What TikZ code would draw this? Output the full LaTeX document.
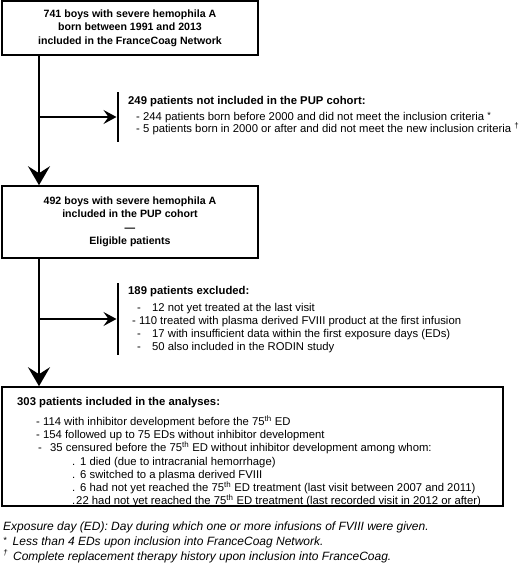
\documentclass[tikz,border=0pt]{standalone}
\usepackage{fontspec}
\setmainfont{Liberation Sans}
\usetikzlibrary{arrows.meta}
\begin{document}
\begin{tikzpicture}[x=1pt,y=-1pt,
  box/.style={draw, line width=1.6pt, inner sep=0pt, align=center,
    font=\bfseries\fontsize{10.6}{13.5}\selectfont},
  flow/.style={line width=1.9pt, -{Stealth[length=19pt,width=22pt,inset=7pt]}},
  branch/.style={line width=1.5pt, -{Stealth[length=13pt,width=14pt,inset=5pt]}},
  bar/.style={fill=black, inner sep=0pt, minimum width=2.6pt},
  ln/.style={anchor=base west, inner sep=0pt, font=\fontsize{11.3}{13}\selectfont},
  hd/.style={ln, font=\bfseries\fontsize{11.3}{13}\selectfont},
  note/.style={anchor=base west, inner sep=0pt, font=\itshape\fontsize{12}{14}\selectfont}
]
\useasboundingbox[fill=white] (0,0) rectangle (520,569);

% main boxes
\node[box, minimum width=256pt, minimum height=54pt] (b1) at (130,28)
  {741 boys with severe hemophila A\\born between 1991 and 2013\\included in the FranceCoag Network};
\node[box, minimum width=256pt, minimum height=72pt] (b2) at (130,222)
  {492 boys with severe hemophila A\\included in the PUP cohort\\---\\Eligible patients};
\node[draw, line width=1.6pt, inner sep=0pt, minimum width=501pt, minimum height=119pt] (b3) at (252.5,446.5) {};

% junctions and bars
\coordinate (j1) at (39,117);
\coordinate (j2) at (39,319);
\node[bar, minimum height=50pt] (bar1) at (118,117) {};
\node[bar, minimum height=72pt] (bar2) at (118,319) {};

% connectors
\draw[flow] (b1.south -| j1) -- (b2.north -| j1);
\draw[flow] (b2.south -| j2) -- (b3.north -| j2);
\draw[branch] (j1) -- (bar1.west);
\draw[branch] (j2) -- (bar2.west);

% side text 1
\node[hd] (s1h) at (128,105) {249 patients not included in the PUP cohort:};
\node[ln] (s1a) at (136,121) {- 244 patients born before 2000 and did not meet the inclusion criteria \raisebox{2pt}{\small *}};
\node[ln] (s1b) at (136,132.5) {- 5 patients born in 2000 or after and did not meet the new inclusion criteria \textsuperscript{†}};

% side text 2
\node[hd] (s2h) at (128,294) {189 patients excluded:};
\node[ln] (s2a) at (137,311) {-\hspace{11.2pt}12 not yet treated at the last visit};
\node[ln] (s2b) at (132,324) {- 110 treated with plasma derived FVIII product at the first infusion};
\node[ln] (s2c) at (137,337) {-\hspace{11.2pt}17 with insufficient data within the first exposure days (EDs)};
\node[ln] (s2d) at (137,350) {-\hspace{11.2pt}50 also included in the RODIN study};

% box 3 text
\node[hd] (t0) at (17,405) {303 patients included in the analyses:};
\node[ln] (t1) at (36,425) {- 114 with inhibitor development before the 75\textsuperscript{th} ED};
\node[ln] (t2) at (36,438) {- 154 followed up to 75 EDs without inhibitor development};
\node[ln] (t3) at (38,451) {-\hspace{8.2pt}35 censured before the 75\textsuperscript{th} ED without inhibitor development among whom:};
\node[ln] (t4) at (72,465.5) {.\hspace{4.9pt}1 died (due to intracranial hemorrhage)};
\node[ln] (t5) at (72,478.5) {.\hspace{4.9pt}6 switched to a plasma derived FVIII};
\node[ln] (t6) at (72,491.5) {.\hspace{4.9pt}6 had not yet reached the 75\textsuperscript{th} ED treatment (last visit between 2007 and 2011)};
\node[ln] (t7) at (72,504) {.\hspace{0.9pt}22 had not yet reached the 75\textsuperscript{th} ED treatment (last recorded visit in 2012 or after)};

% footnotes
\node[note] (n1) at (3,530) {Exposure day (ED): Day during which one or more infusions of FVIII were given.};
\node[note] (n2) at (3,545) {\raisebox{2pt}{\small *}\hspace{6pt}Less than 4 EDs upon inclusion into FranceCoag Network.};
\node[note] (n3) at (3,560) {\textsuperscript{†}\hspace{5pt}Complete replacement therapy history upon inclusion into FranceCoag.};
\end{tikzpicture}
\end{document}
